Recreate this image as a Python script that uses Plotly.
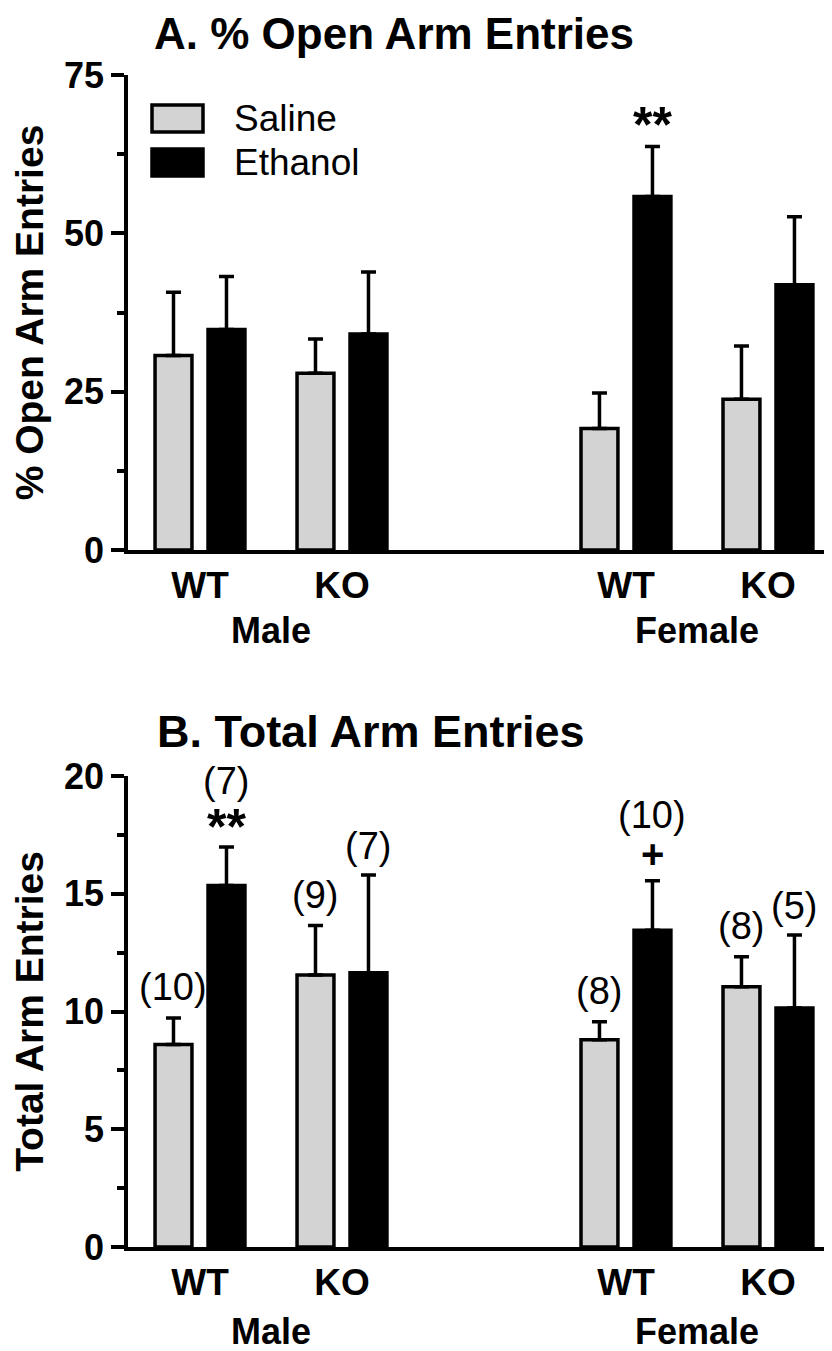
import plotly.graph_objects as go
from plotly.subplots import make_subplots

# ---------------- data ----------------
genotypes = ["WT", "KO", "WT", "KO"]
sexes = ["Male", "Female"]
group_pos = [0, 1, 3, 4]          # category positions on the x scale
sex_pos = [0.5, 3.5]

open_saline = [30.7, 27.9, 19.2, 23.8]
open_saline_sem = [10.0, 5.4, 5.6, 8.4]
open_ethanol = [34.8, 34.1, 55.8, 41.9]
open_ethanol_sem = [8.4, 9.8, 7.9, 10.7]
open_sig_ethanol = ["", "", "**", ""]

total_saline = [8.6, 11.55, 8.8, 11.05]
total_saline_sem = [1.12, 2.1, 0.76, 1.27]
total_ethanol = [15.35, 11.65, 13.45, 10.15]
total_ethanol_sem = [1.63, 4.15, 2.1, 3.1]
total_n_saline = ["(10)", "(9)", "(8)", "(8)"]
total_n_ethanol = ["(7)", "(7)", "(10)", "(5)"]
total_sig_ethanol = ["**", "", "+", ""]

# ---------------- style ----------------
FONT = "Liberation Sans, Arial, Helvetica, sans-serif"
GRAY = "#d3d3d3"
BW = 0.26
OFF = 0.1866
LW = 3.5
PAGE = 8                     # page body margin of the html page
W, H = 832 - PAGE, 1351 - PAGE
ML = 128 - PAGE


def px(x):
    return (x - 128) / (W - ML)


def py(y):
    return (H - (y - PAGE)) / H


fig = make_subplots(rows=2, cols=1)


def add_panel(row, sal, sal_e, eth, eth_e):
    fig.add_trace(go.Bar(
        x=group_pos, y=sal, width=BW, offset=-OFF - BW / 2,
        marker=dict(color=GRAY, line=dict(color="black", width=LW)),
        error_y=dict(type="data", array=sal_e, arrayminus=[0] * len(sal_e),
                     symmetric=False, color="black", thickness=LW, width=7.5),
        name="Saline", showlegend=False), row=row, col=1)
    fig.add_trace(go.Bar(
        x=group_pos, y=eth, width=BW, offset=OFF - BW / 2,
        marker=dict(color="black", line=dict(color="black", width=LW)),
        error_y=dict(type="data", array=eth_e, arrayminus=[0] * len(eth_e),
                     symmetric=False, color="black", thickness=LW, width=7.5),
        name="Ethanol", showlegend=False), row=row, col=1)


add_panel(1, open_saline, open_saline_sem, open_ethanol, open_ethanol_sem)
add_panel(2, total_saline, total_saline_sem, total_ethanol, total_ethanol_sem)

annotations = []

# top panel significance
for p, m, e, s in zip(group_pos, open_ethanol, open_ethanol_sem, open_sig_ethanol):
    if s:
        annotations.append(dict(x=p + OFF, y=m + e, xref="x", yref="y", text=s,
                                showarrow=False, yanchor="middle", yshift=22,
                                font=dict(family=FONT, size=50, color="black",
                                          weight="bold")))

# bottom panel n labels + significance
for p, m, e, n in zip(group_pos, total_saline, total_saline_sem, total_n_saline):
    annotations.append(dict(x=p - OFF, y=m + e, xref="x2", yref="y2", text=n,
                            showarrow=False, yanchor="middle", yshift=31,
                            font=dict(family=FONT, size=38, color="black")))
for p, m, e, n, s in zip(group_pos, total_ethanol, total_ethanol_sem,
                         total_n_ethanol, total_sig_ethanol):
    if s:
        annotations.append(dict(x=p + OFF, y=m + e, xref="x2", yref="y2", text=s,
                                showarrow=False, yanchor="middle",
                                yshift=20 if s == "**" else 27,
                                font=dict(family=FONT, size=50 if s == "**" else 40,
                                          color="black", weight="bold")))
        annotations.append(dict(x=p + OFF, y=m + e, xref="x2", yref="y2", text=n,
                                showarrow=False, yanchor="middle", yshift=66,
                                font=dict(family=FONT, size=38, color="black")))
    else:
        annotations.append(dict(x=p + OFF, y=m + e, xref="x2", yref="y2", text=n,
                                showarrow=False, yanchor="middle", yshift=29,
                                font=dict(family=FONT, size=38, color="black")))

# sex labels
for xr, yr0, shift in (("x", py(550), -80), ("x2", py(1247), -84)):
    for sp, sx in zip(sex_pos, sexes):
        annotations.append(dict(x=sp, y=yr0, xref=xr, yref="paper", text=sx,
                                showarrow=False, yanchor="middle", yshift=shift,
                                font=dict(family=FONT, size=36, color="black",
                                          weight="bold")))

# panel titles
annotations.append(dict(x=px(153), y=py(8), xref="paper", yref="paper",
                        text="A. % Open Arm Entries", showarrow=False, borderpad=0,
                        xanchor="left", yanchor="top",
                        font=dict(family=FONT, size=44, color="black", weight="bold")))
annotations.append(dict(x=px(155), y=py(731), xref="paper", yref="paper",
                        text="B. Total Arm Entries", showarrow=False,
                        xanchor="left", yanchor="middle",
                        font=dict(family=FONT, size=45, color="black", weight="bold")))

# legend (drawn manually for large keys)
shapes = []
for label, color, top, bot in (("Saline", GRAY, 105, 132), ("Ethanol", "black", 149, 176)):
    shapes.append(dict(type="rect", xref="paper", yref="paper",
                       x0=px(152), x1=px(203), y0=py(bot), y1=py(top),
                       fillcolor=color, line=dict(color="black", width=LW)))
    annotations.append(dict(x=px(232), y=py((top + bot) / 2),
                            xref="paper", yref="paper", text=label, showarrow=False,
                            xanchor="left", yanchor="middle",
                            font=dict(family=FONT, size=37, color="black")))

xcommon = dict(range=[-0.507, 4.451], showline=True, linecolor="black", linewidth=LW,
               ticks="", tickvals=group_pos, ticktext=genotypes,
               tickfont=dict(family=FONT, size=37, color="black", weight="bold"),
               showgrid=False, zeroline=False, fixedrange=True)
ycommon = dict(showline=True, linecolor="black", linewidth=LW, ticks="outside",
               ticklen=13, tickwidth=LW, tickcolor="black", showgrid=False, zeroline=False,
               tickfont=dict(family=FONT, size=36, color="black", weight="bold"))

fig.update_xaxes(**xcommon)
fig.update_yaxes(**ycommon)
fig.update_layout(
    xaxis=dict(domain=[0, 1], anchor="y"),
    xaxis2=dict(domain=[0, 1], anchor="y2"),
    yaxis=dict(domain=[py(550), py(75)], range=[0, 75], tickvals=[0, 25, 50, 75],
               minor=dict(tickvals=[12.5, 37.5, 62.5], ticks="outside", ticklen=7,
                          tickwidth=LW, tickcolor="black"),
               title=dict(text="% Open Arm Entries", standoff=10,
                          font=dict(family=FONT, size=39, color="black", weight="bold"))),
    yaxis2=dict(domain=[py(1247), py(776)], range=[0, 20], tickvals=[0, 5, 10, 15, 20],
                minor=dict(tickvals=[2.5, 7.5, 12.5, 17.5], ticks="outside", ticklen=7,
                           tickwidth=LW, tickcolor="black"),
                title=dict(text="Total Arm Entries", standoff=10,
                           font=dict(family=FONT, size=39, color="black", weight="bold"))),
    width=W, height=H,
    margin=dict(l=ML, r=0, t=0, b=0, autoexpand=False),
    paper_bgcolor="white", plot_bgcolor="white",
    annotations=annotations, shapes=shapes,
    showlegend=False, barmode="overlay",
)

fig.write_html("out.html")
